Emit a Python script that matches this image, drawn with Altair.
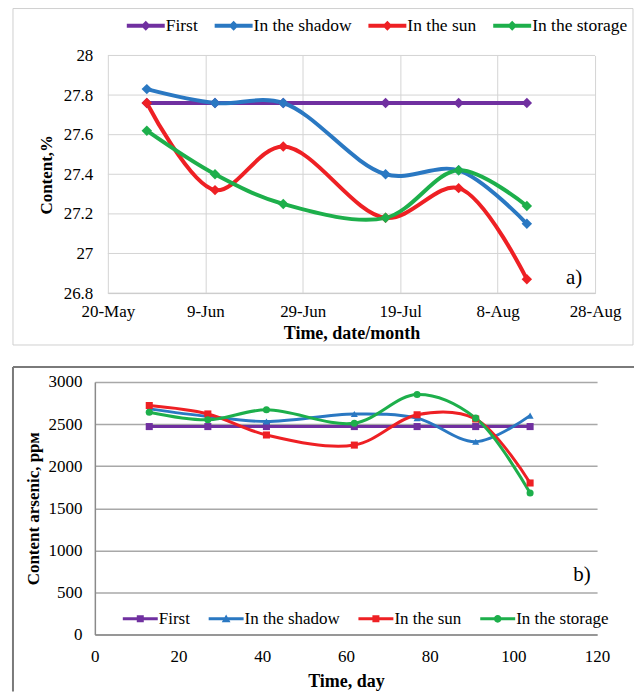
import altair as alt
import pandas as pd

FONT = "Liberation Serif"

series = ["First", "In the shadow", "In the sun", "In the storage"]
colors = ["#7030A0", "#2A78C2", "#EE2024", "#1DAF4B"]

# ---------------- panel a) ----------------
start_a = "2023-05-20"
dates_a = ["2023-05-28", "2023-06-11", "2023-06-25", "2023-07-16", "2023-07-31", "2023-08-14"]
first_a = [27.76, 27.76, 27.76, 27.76, 27.76, 27.76]
shadow_a = [27.83, 27.76, 27.76, 27.40, 27.42, 27.15]
sun_a = [27.76, 27.32, 27.54, 27.18, 27.33, 26.87]
storage_a = [27.62, 27.40, 27.25, 27.18, 27.42, 27.24]
tick_dates_a = ["2023-05-20", "2023-06-09", "2023-06-29", "2023-07-19", "2023-08-08", "2023-08-28"]
tick_labels_a = ["20-May", "9-Jun", "29-Jun", "19-Jul", "8-Aug", "28-Aug"]
y_ticks_a = [26.8, 27.0, 27.2, 27.4, 27.6, 27.8, 28.0]

# ---------------- panel b) ----------------
days_b = [13, 27, 41, 62, 77, 91, 104]
first_b = [2470, 2470, 2470, 2470, 2470, 2470, 2470]
shadow_b = [2680, 2590, 2530, 2620, 2570, 2290, 2600]
sun_b = [2720, 2620, 2370, 2250, 2610, 2560, 1800]
storage_b = [2640, 2550, 2670, 2510, 2850, 2570, 1680]
x_ticks_b = [0, 20, 40, 60, 80, 100, 120]
y_ticks_b = [0, 500, 1000, 1500, 2000, 2500, 3000]
marker_shapes_b = ["square", "triangle-up", "square", "circle"]

# ---------------- data tables ----------------
t0 = pd.Timestamp(start_a)
day_a = [(pd.Timestamp(d) - t0).days for d in dates_a]
tick_days_a = [(pd.Timestamp(d) - t0).days for d in tick_dates_a]

rows = []
for name, vals in zip(series, [first_a, shadow_a, sun_a, storage_a]):
    for d, v in zip(day_a, vals):
        rows.append({"series": name, "day": d, "value": v})
df_a = pd.DataFrame(rows)

# horizontal grid lines of panel a) span the date ticks only
grid_a = pd.DataFrame(
    {"value": y_ticks_a, "x0": [tick_days_a[0]] * len(y_ticks_a), "x1": [tick_days_a[-1]] * len(y_ticks_a)}
)

rows = []
for name, vals in zip(series, [first_b, shadow_b, sun_b, storage_b]):
    for d, v in zip(days_b, vals):
        rows.append({"series": name, "day": d, "value": v})
df_b = pd.DataFrame(rows)

label_expr_a = " : ".join(
    f"datum.value == {v} ? '{l}'" for v, l in zip(tick_days_a, tick_labels_a)
) + " : ''"

color_scale = alt.Scale(domain=series, range=colors)

# legend symbols: line segment with marker, inside the unit box [-1, 1]
SYM_A = "M-1,-0.105L1,-0.105L1,0.105L-1,0.105Z M0,-0.26L0.26,0L0,0.26L-0.26,0Z"
SQ_B = "M-1,-0.086L1,-0.086L1,0.086L-1,0.086Z M-0.2,-0.2L0.2,-0.2L0.2,0.2L-0.2,0.2Z"
TRI_B = "M-1,-0.086L1,-0.086L1,0.086L-1,0.086Z M0,-0.25L0.25,0.19L-0.25,0.19Z"
CIR_B = "M-1,-0.086L1,-0.086L1,0.086L-1,0.086Z M-0.22,0A0.22,0.22 0 1,1 0.22,0A0.22,0.22 0 1,1 -0.22,0Z"

one = alt.InlineData(values=[{"k": 0}])

x_scale_a = alt.Scale(domain=[0, 100], range=[13, 501], nice=False)
y_scale_a = alt.Scale(domain=[26.8, 28.0], zero=False, nice=False)

axis_xa = alt.Axis(
    values=tick_days_a, labelExpr=label_expr_a, grid=True, gridColor="#d4d4d4",
    domainColor="#bfbfbf", ticks=False, labelPadding=10.5, labelFlush=False,
    labelOverlap=False, labelFont=FONT, labelFontSize=17, title="Time, date/month",
    titleFont=FONT, titleFontSize=18, titleFontWeight="bold", titlePadding=4.5,
)
axis_ya = alt.Axis(
    values=y_ticks_a, format="~g", grid=False, domain=False, labelOverlap=False,
    ticks=False, labelPadding=2, labelFont=FONT, labelFontSize=17, title="Content,%",
    titleFont=FONT, titleFontSize=17, titleFontWeight="bold", titlePadding=7.5,
)

# ---------------- chart a ----------------
W_A, H_A = 501, 238
xa = alt.X("day:Q", scale=x_scale_a, axis=axis_xa)
ya = alt.Y("value:Q", scale=y_scale_a, axis=axis_ya)

frame_a = alt.Chart(one).mark_rect(fill="transparent", stroke="#d0d0d0", strokeWidth=1).encode(
    x=alt.value(-82), x2=alt.value(539), y=alt.value(-47), y2=alt.value(290)
)
hgrid_a = alt.Chart(grid_a).mark_rule(color="#d4d4d4", strokeWidth=1).encode(
    x=alt.X("x0:Q", scale=x_scale_a, axis=axis_xa),
    x2="x1:Q",
    y=alt.Y("value:Q", scale=y_scale_a, axis=axis_ya),
)
lines_a = alt.Chart(df_a).mark_line(interpolate="catmull-rom", strokeWidth=4).encode(
    x=xa, y=ya, color=alt.Color("series:N", scale=color_scale, legend=None),
    detail="series:N",
)
pts_a = alt.Chart(df_a).mark_point(shape="diamond", filled=True, size=110, opacity=1).encode(
    x=xa, y=ya, color=alt.Color("series:N", scale=color_scale, legend=None),
)
leg_a = alt.Chart(df_a).mark_point(filled=True, opacity=0).encode(
    x=xa, y=ya,
    color=alt.Color(
        "series:N", scale=color_scale,
        legend=alt.Legend(
            title=None, orient="none", legendX=32, legendY=-49, direction="horizontal",
            columns=4, symbolType=SYM_A, symbolSize=1444, symbolStrokeWidth=0,
            symbolOpacity=1, labelFont=FONT, labelFontSize=17.5, labelColor="black",
            labelOffset=1, columnPadding=16, padding=0, labelLimit=0,
        ),
    ),
)
tag_a = alt.Chart(one).mark_text(font=FONT, fontSize=21, color="black").encode(
    x=alt.value(480), y=alt.value(223), text=alt.value("a)")
)
chart_a = (
    alt.layer(frame_a, hgrid_a, lines_a, pts_a, leg_a, tag_a)
    .resolve_legend(color="independent")
    .properties(width=W_A, height=H_A)
)

# ---------------- chart b ----------------
W_B, H_B = 503, 253
xb = alt.X(
    "day:Q",
    scale=alt.Scale(domain=[0, 120], nice=False),
    axis=alt.Axis(
        values=x_ticks_b, grid=False, domainColor="#8a8a8a", domainWidth=1.5, ticks=False,
        labelPadding=13.5, labelFlush=False, labelOverlap=False, labelFont=FONT,
        labelFontSize=17, title="Time, day", titleFont=FONT, titleFontSize=18,
        titleFontWeight="bold", titlePadding=8.5,
    ),
)
yb = alt.Y(
    "value:Q",
    scale=alt.Scale(domain=[0, 3000], nice=False),
    axis=alt.Axis(
        values=y_ticks_b, format="d", grid=True, gridColor="#a8a8a8", gridWidth=1.5,
        domainColor="#8a8a8a", domainWidth=1.5, ticks=False, labelPadding=13,
        labelOverlap=False, labelFont=FONT, labelFontSize=17,
        title="Content arsenic, ррм", titleFont=FONT,
        titleFontSize=17, titleFontWeight="bold", titlePadding=5.5,
    ),
)
frame_b_top = alt.Chart(one).mark_rule(color="#7a7a7a", strokeWidth=2).encode(
    x=alt.value(-82), x2=alt.value(540), y=alt.value(-15)
)
frame_b_left = alt.Chart(one).mark_rule(color="#7a7a7a", strokeWidth=2).encode(
    x=alt.value(-82), y=alt.value(-15), y2=alt.value(310)
)
lines_b = alt.Chart(df_b).mark_line(interpolate="catmull-rom", strokeWidth=3).encode(
    x=xb, y=yb, color=alt.Color("series:N", scale=color_scale, legend=None),
    detail="series:N",
)
pts_b = [
    alt.Chart(df_b)
    .transform_filter(alt.datum.series == s)
    .mark_point(filled=True, size=50, opacity=1, shape=shp)
    .encode(x=xb, y=yb, color=alt.Color("series:N", scale=color_scale, legend=None))
    for s, shp in zip(series, marker_shapes_b)
]
legend_b = alt.Legend(
    title=None, orient="none", legendX=28, legendY=219.5, direction="horizontal",
    columns=4, symbolSize=1225, symbolStrokeWidth=0, symbolOpacity=1, labelFont=FONT,
    labelFontSize=17, labelColor="black", labelOffset=1, columnPadding=18,
    padding=0, labelLimit=0,
)
leg_b = alt.Chart(df_b).mark_point(filled=True, opacity=0).encode(
    x=xb, y=yb,
    color=alt.Color("series:N", scale=color_scale, legend=legend_b),
    shape=alt.Shape(
        "series:N",
        scale=alt.Scale(domain=series, range=[SQ_B, TRI_B, SQ_B, CIR_B]),
        legend=legend_b,
    ),
)
tag_b = alt.Chart(one).mark_text(font=FONT, fontSize=21, color="black").encode(
    x=alt.value(488), y=alt.value(193), text=alt.value("b)")
)
chart_b = (
    alt.layer(frame_b_top, frame_b_left, lines_b, *pts_b, leg_b, tag_b)
    .resolve_legend(color="independent", shape="independent")
    .properties(width=W_B, height=H_B)
)

chart = (
    alt.vconcat(chart_a, chart_b, spacing=20)
    .resolve_scale(color="independent", shape="independent")
    .resolve_legend(color="independent", shape="independent")
    .properties(padding={"left": 12, "top": 6, "right": 0, "bottom": 0})
    .configure(font=FONT)
    .configure_view(stroke=None)
    .configure_axis(labelFont=FONT, titleFont=FONT, labelColor="black", titleColor="black")
    .configure_legend(labelFont=FONT)
    .configure_text(font=FONT)
)

chart.save("out.html", embed_options={"renderer": "svg", "actions": False})
